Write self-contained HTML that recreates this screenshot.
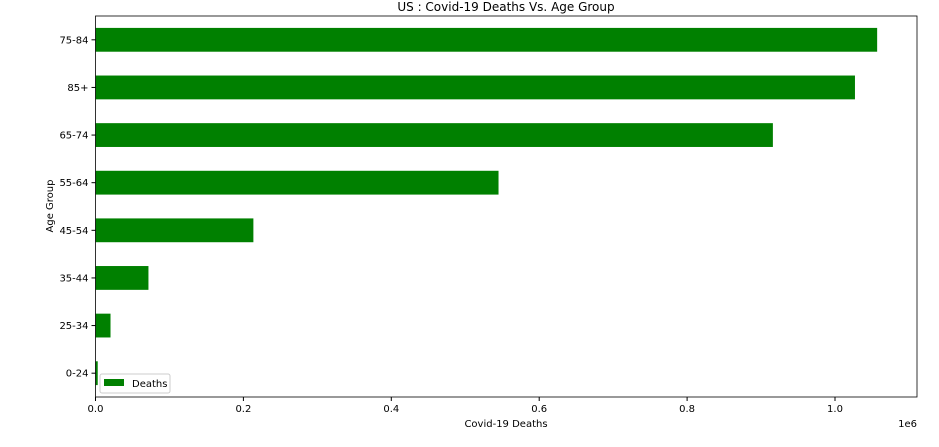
<!DOCTYPE html>
<html><head><meta charset="utf-8"><style>
body{margin:0;background:#fff;font-family:"Liberation Sans","DejaVu Sans",sans-serif;}
svg text{font-family:"DejaVu Sans","Liberation Sans",sans-serif;font-size:10px;fill:#000}
</style></head><body>
<svg id="chart" width="939" height="442" xmlns="http://www.w3.org/2000/svg">
<rect x="0" y="0" width="939" height="442" fill="#fff"/>
<text x="506" y="11" text-anchor="middle" style="font-size:12px">US : Covid-19 Deaths Vs. Age Group</text>
<g id="bars"></g>
<g id="axes"></g>
<text x="506" y="427" text-anchor="middle">Covid-19 Deaths</text>
<text x="917" y="427" text-anchor="end">1e6</text>
<text transform="translate(53,206) rotate(-90)" text-anchor="middle">Age Group</text>
<g>
<rect x="100" y="374" width="70" height="19" rx="2" fill="#fff" fill-opacity="0.8" stroke="#ccc"/>
<rect x="104" y="379" width="20" height="7" fill="#008000"/>
<text x="132" y="387">Deaths</text>
</g>
</svg>
<script>
const categories=["0-24","25-34","35-44","45-54","55-64","65-74","85+","75-84"];
const deaths=[3000,20300,71600,213500,545000,916000,1027000,1057000];
const xTicks=[0,0.2e6,0.4e6,0.6e6,0.8e6,1.0e6];
const xTickLabels=["0.0","0.2","0.4","0.6","0.8","1.0"];
const L=95.5,R=917,T=16,B=397;
const xs=v=>L+v*(835-95.5)/1e6;
const step=(B-T)/categories.length;
const yc=i=>B-step*(i+0.5);
const NS="http://www.w3.org/2000/svg";
const bars=document.getElementById('bars'),axes=document.getElementById('axes');
function mk(tag,attrs,parent){const e=document.createElementNS(NS,tag);for(const k in attrs)e.setAttribute(k,attrs[k]);parent.appendChild(e);return e;}
categories.forEach((c,i)=>{
 const r=mk('rect',{x:L,y:yc(i)-step*0.25,width:xs(deaths[i])-L,height:step*0.5,fill:'#008000'},bars);
 
 
 const t=mk('line',{x1:L-4,x2:L,y1:yc(i),y2:yc(i),stroke:'#000'},axes);
 const lb=mk('text',{x:L-7,y:yc(i)+3.5,'text-anchor':'end'},axes);lb.textContent=c;
 
 
});
xTicks.forEach((v,i)=>{
 mk('line',{x1:xs(v),x2:xs(v),y1:B,y2:B+4,stroke:'#000'},axes);
 const lb=mk('text',{x:xs(v),y:B+15,'text-anchor':'middle'},axes);lb.textContent=xTickLabels[i];
 
 
});
const f=mk('rect',{x:L,y:T,width:R-L,height:B-T,fill:'none',stroke:'#000','stroke-width':0.8},axes);


</script>
</body></html>
